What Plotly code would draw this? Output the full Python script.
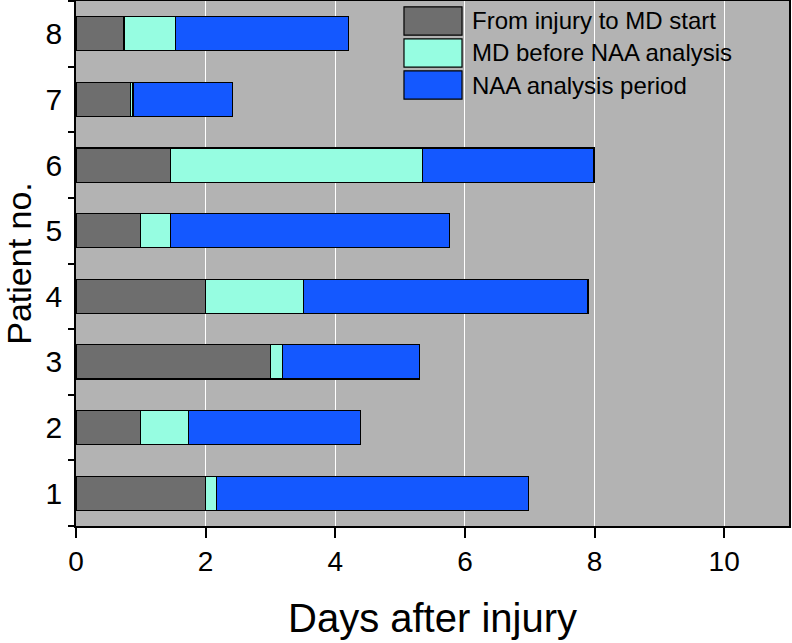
import plotly.graph_objects as go

patients = [1, 2, 3, 4, 5, 6, 7, 8]
series_names = ["From injury to MD start", "MD before NAA analysis", "NAA analysis period"]
injury_to_md = [2.00, 1.00, 3.00, 2.00, 1.00, 1.46, 0.84, 0.74]
md_before_naa = [0.17, 0.74, 0.19, 1.51, 0.46, 3.88, 0.04, 0.79]
naa_period = [4.81, 2.65, 2.11, 4.39, 4.30, 2.65, 1.54, 2.67]
x_ticks = [0, 2, 4, 6, 8, 10]

colors = ["#6e6e6e", "#96fde1", "#1458ff"]
FONT = "Liberation Sans, Arial, sans-serif"

fig = go.Figure()
for name, vals, col in zip(series_names, [injury_to_md, md_before_naa, naa_period], colors):
    fig.add_trace(go.Bar(
        y=patients, x=vals, orientation="h", name=name,
        marker=dict(color=col, line=dict(color="black", width=1.2)),
        width=0.52, showlegend=False,
    ))

# custom legend (large swatches like the original)
sw_x0, sw_x1, txt_x = 0.46, 0.5414, 0.5526
sw_rows = [(0.989, 0.935, 0.962), (0.928, 0.874, 0.901), (0.867, 0.813, 0.840)]
for (y1, y0, yt), name, col in zip(sw_rows, series_names, colors):
    fig.add_shape(type="rect", xref="paper", yref="paper", x0=sw_x0, x1=sw_x1, y0=y0, y1=y1,
                  fillcolor=col, line=dict(color="black", width=1.2), layer="above")
    fig.add_annotation(xref="paper", yref="paper", x=txt_x, y=yt, text=name, showarrow=False,
                       xanchor="left", yanchor="middle", font=dict(family=FONT, size=24, color="black"))

fig.update_layout(
    width=792, height=643,
    margin=dict(l=76, r=3, t=1, b=117),
    barmode="stack",
    plot_bgcolor="#b3b3b3",
    paper_bgcolor="white",
    font=dict(family=FONT, color="black"),
)
fig.update_xaxes(
    range=[0, 11], tickvals=x_ticks, ticks="outside", ticklen=10, tickwidth=1.5, tickcolor="black",
    showgrid=True, gridcolor="white", gridwidth=1, zeroline=False, automargin=False,
    showline=True, linecolor="black", linewidth=1.5, mirror=True,
    tickfont=dict(family=FONT, size=28),
    title=dict(text="Days after injury", font=dict(family=FONT, size=40), standoff=28),
)
fig.update_yaxes(
    range=[0.5, 8.5], tickvals=patients, ticks="", showgrid=False, zeroline=False, automargin=False,
    showline=True, linecolor="black", linewidth=1.5, mirror=True,
    tickfont=dict(family=FONT, size=30), ticklabelstandoff=6,
    minor=dict(tick0=0.5, dtick=1, ticks="outside", ticklen=6, tickwidth=1.5, tickcolor="black", showgrid=False),
    title=dict(text="Patient no.", font=dict(family=FONT, size=34), standoff=14),
)

fig.write_html("out.html", config={"displayModeBar": False},
               post_script="document.body.style.margin='0';")
